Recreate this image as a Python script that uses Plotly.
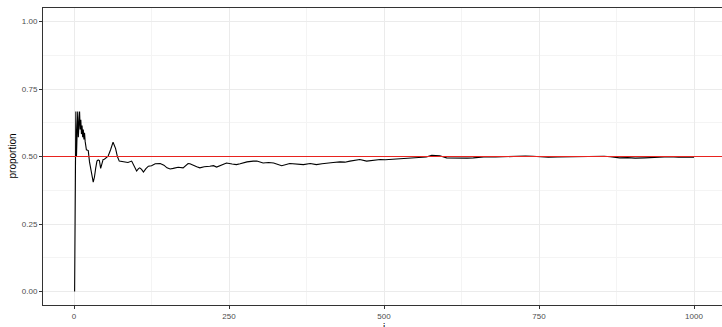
import plotly.graph_objects as go

# Running proportion (trial index i, proportion)
trial_i = [1, 2, 3, 4, 5, 6, 7, 8, 9, 10, 11, 12, 13, 14, 15, 16, 17, 18, 19, 20,
           21, 23, 25, 27, 29, 31, 33, 35, 37, 39, 41, 43, 45, 47, 49, 52, 55,
           59, 63, 67, 70, 73, 77, 82, 87, 93, 97, 101, 104, 106, 109, 112, 116,
           120, 125, 131, 139, 145, 150, 155, 160, 168, 176, 180, 184, 187, 193,
           198, 203, 210, 219, 225, 230, 238, 246, 255, 262, 268, 279, 289, 295,
           305, 314, 322, 335, 348, 360, 370, 381, 391, 400, 408, 418, 429, 437,
           445, 453, 461, 472, 483, 494, 502, 510, 525, 537, 548, 558, 568, 577,
           590, 601, 612, 623, 634, 644, 655, 665, 680, 695, 703, 715, 728, 740,
           752, 765, 780, 795, 810, 825, 843, 855, 865, 880, 893, 905, 920, 934,
           948, 960, 975, 988, 1000]
proportion = [0.0, 0.5, 0.667, 0.5, 0.6, 0.667, 0.571, 0.625, 0.667, 0.6, 0.636, 0.583,
              0.615, 0.571, 0.6, 0.563, 0.588, 0.556, 0.526, 0.525,
              0.524, 0.522, 0.48, 0.446, 0.43, 0.405, 0.424, 0.457, 0.483, 0.487,
              0.485, 0.456, 0.478, 0.489, 0.49, 0.494, 0.501, 0.525, 0.553, 0.53,
              0.5, 0.483, 0.481, 0.48, 0.478, 0.483, 0.465, 0.446, 0.455, 0.458,
              0.452, 0.442, 0.455, 0.464, 0.466, 0.473, 0.474, 0.468, 0.458, 0.454,
              0.456, 0.46, 0.458, 0.466, 0.474, 0.473, 0.466, 0.462, 0.458, 0.462,
              0.464, 0.466, 0.461, 0.468, 0.476, 0.472, 0.47, 0.473, 0.48, 0.483,
              0.483, 0.476, 0.478, 0.476, 0.466, 0.474, 0.471, 0.47, 0.474, 0.47,
              0.473, 0.476, 0.478, 0.48, 0.479, 0.483, 0.486, 0.489, 0.483, 0.486,
              0.489, 0.488, 0.489, 0.49, 0.492, 0.494, 0.495, 0.498, 0.504, 0.503,
              0.495, 0.494, 0.493, 0.494, 0.495, 0.497, 0.499, 0.498, 0.499, 0.502,
              0.501, 0.502, 0.501, 0.498, 0.497, 0.498, 0.499, 0.498, 0.499, 0.502,
              0.501, 0.499, 0.495, 0.496, 0.494, 0.495, 0.496, 0.498, 0.499, 0.497,
              0.498, 0.497]

reference_p = 0.5
x_ticks = [0, 250, 500, 750, 1000]
y_ticks = [0.0, 0.25, 0.5, 0.75, 1.0]
y_tick_labels = ["0.00", "0.25", "0.50", "0.75", "1.00"]
x_minor = [125, 375, 625, 875]
y_minor = [0.125, 0.375, 0.625, 0.875]
x_range = [-50, 1051.6]
y_range = [-0.05, 1.05]

fig = go.Figure()
fig.add_trace(go.Scatter(x=trial_i, y=proportion, mode="lines",
                         line=dict(color="black", width=1.1), showlegend=False,
                         hoverinfo="x+y"))
fig.add_trace(go.Scatter(x=x_range, y=[reference_p, reference_p], mode="lines",
                         line=dict(color="#E8231F", width=1.2), showlegend=False,
                         hoverinfo="skip"))

font_family = "Liberation Sans, Arial, sans-serif"
axis_font = dict(family=font_family, size=8, color="#4D4D4D")
fig.update_layout(
    width=726, height=327,
    margin=dict(l=43, r=0, t=8, b=22),
    paper_bgcolor="white", plot_bgcolor="white",
    font=dict(family=font_family, color="black"),
    xaxis=dict(range=x_range, tickvals=x_ticks, ticktext=[str(v) for v in x_ticks],
               tickfont=axis_font, showgrid=True, gridcolor="#EBEBEB", gridwidth=1,
               minor=dict(tickvals=x_minor, showgrid=True,
                          gridcolor="#F4F4F4", gridwidth=0.6, ticks=""),
               zeroline=False, showline=True, linecolor="#333333", linewidth=1,
               mirror=True, ticks="outside", ticklen=3, tickcolor="#333333",
               automargin=False),
    yaxis=dict(range=y_range, tickvals=y_ticks, ticktext=y_tick_labels,
               tickfont=axis_font, showgrid=True, gridcolor="#EBEBEB", gridwidth=1,
               minor=dict(tickvals=y_minor, showgrid=True,
                          gridcolor="#F4F4F4", gridwidth=0.6, ticks=""),
               zeroline=False, showline=True, linecolor="#333333", linewidth=1,
               mirror=False, ticks="outside", ticklen=3, tickcolor="#333333",
               automargin=False),
    annotations=[
        dict(text="i", xref="paper", yref="paper", x=(384 - 43) / 683, y=0,
             yshift=-15, xanchor="center", yanchor="top", showarrow=False,
             font=dict(family=font_family, size=10, color="black")),
        dict(text="proportion", xref="paper", yref="paper", x=0, xshift=-31, y=0.5,
             textangle=-90, xanchor="center", yanchor="middle", showarrow=False,
             font=dict(family=font_family, size=10, color="black")),
    ],
)

fig.write_html("out.html", config={"displayModeBar": False},
               post_script="document.body.style.margin='0';document.body.style.overflow='hidden';")
